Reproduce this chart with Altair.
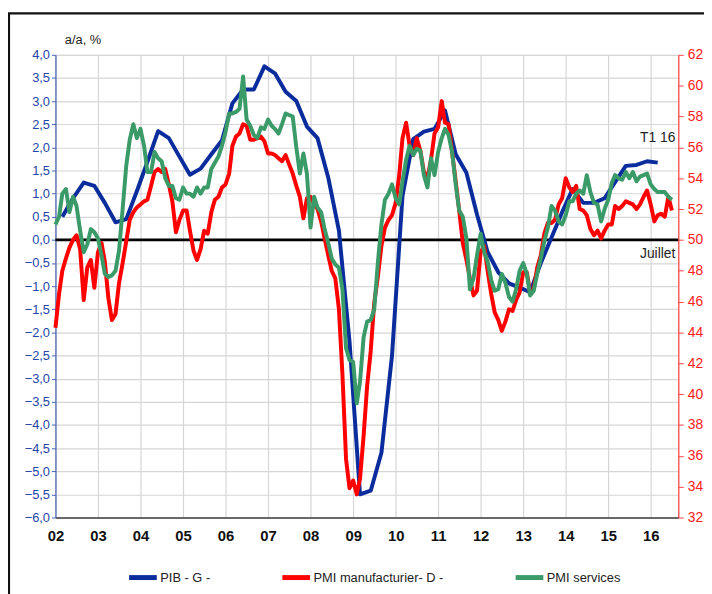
import altair as alt
import pandas as pd

# ---------------- data ----------------
pib_values = [
    0.5, 0.9, 1.24, 1.17,
    0.8, 0.38, 0.45, 1.05,
    1.69, 2.35, 2.2, 1.8,
    1.41, 1.54, 1.85, 2.15,
    2.95, 3.25, 3.25, 3.75,
    3.6, 3.2, 3.0, 2.45,
    2.2, 1.35, 0.2, -2.2,
    -5.5, -5.42, -4.6, -2.5,
    0.95, 2.18, 2.34, 2.4,
    2.8, 1.85, 1.45, 0.55,
    -0.26, -0.7, -0.94, -1.03,
    -1.13, -0.5, 0.05, 0.6,
    1.1, 0.8, 0.8, 0.9,
    1.25, 1.6, 1.62, 1.7,
    1.67,
]

pmi_manuf = [
    44.3, 46.5, 48.0, 48.8, 49.5, 50.0, 50.3, 49.4, 46.1, 48.2, 48.7, 46.9,
    49.2, 49.8, 48.6, 46.2, 44.8, 45.2, 47.2, 48.5, 49.9, 51.3, 51.8, 52.1,
    52.3, 52.5, 52.6, 53.5, 54.4, 54.6, 54.4, 54.6, 53.6, 52.5, 50.5, 51.3,
    51.9, 51.9, 50.6, 49.3, 48.7, 49.4, 50.6, 50.4, 51.8, 52.6, 52.8, 53.4,
    53.6, 54.3, 56.1, 56.7, 56.9, 57.5, 57.4, 56.5, 56.5, 56.6, 56.7, 56.4,
    55.6, 55.6, 55.5, 55.3, 55.1, 55.5, 54.9, 54.3, 53.5, 52.8, 51.4, 52.7,
    52.8, 52.3, 52.0, 51.2, 50.1, 49.0, 48.0, 47.5, 45.5, 41.3, 35.8, 33.9,
    34.4, 33.5, 34.5, 37.3, 40.5, 42.8, 45.9, 47.6, 49.6, 50.8, 51.3, 51.6,
    52.4, 54.2, 56.6, 57.6, 56.1, 55.5, 56.6, 55.8, 54.4, 54.0, 55.2, 56.9,
    57.3, 59.0, 57.6, 57.5, 55.7, 53.8, 51.9, 49.8, 48.7, 47.5, 46.4, 46.7,
    49.2, 49.6, 48.0, 46.5, 45.3, 44.8, 44.1, 44.7, 45.5, 45.4, 46.1, 46.6,
    47.9, 47.9, 46.6, 46.8, 48.2, 49.0, 50.4, 51.1, 51.1, 51.3, 52.3, 52.7,
    54.0, 53.4, 53.1, 53.5, 52.0, 51.9, 51.6, 50.7, 50.3, 50.6, 50.1, 50.6,
    51.0, 51.0, 52.2, 52.0, 52.2, 52.5, 52.4, 52.3, 52.0, 52.3, 52.8, 53.2,
    52.3, 51.2, 51.6, 51.7, 51.5, 52.8, 51.9,
]

pmi_services = [
    51.0, 51.5, 53.0, 53.3, 51.8, 52.8, 52.2, 50.6, 49.2, 49.7, 50.7, 50.5,
    50.1, 49.0, 47.8, 47.6, 47.7, 48.0, 49.3, 52.0, 54.8, 56.5, 57.5, 56.6,
    57.2, 56.1, 54.4, 54.4, 55.7, 55.3, 55.1, 54.0, 53.5, 53.5, 52.7, 52.6,
    53.4, 53.0, 53.0, 52.8, 53.4, 53.0, 53.4, 53.4, 54.6, 55.0, 55.4, 56.1,
    57.0, 58.2, 58.2, 58.3, 58.5, 60.6, 57.8, 57.4, 56.8, 56.6, 57.3, 57.2,
    57.8, 57.4, 57.2, 56.9, 57.5, 58.2, 58.1, 58.0, 56.0, 54.3, 55.6, 54.3,
    50.8, 52.8, 52.1, 51.8, 50.7, 49.8, 48.8, 48.4, 48.2, 46.8, 43.0, 42.2,
    42.1, 39.4, 40.8, 43.7, 44.7, 44.8, 45.5, 48.5, 51.0, 52.6, 53.0, 53.6,
    52.7, 52.3, 53.8, 55.2, 56.1, 55.5, 55.9, 55.8, 54.2, 53.4, 55.3, 54.2,
    55.7, 56.6, 57.2, 56.8, 55.7, 53.6, 51.9, 51.5, 50.1, 46.8, 47.5, 49.0,
    50.4, 49.2, 48.6, 47.4, 46.7, 46.8, 47.8, 47.2, 46.3, 46.0, 46.8, 48.0,
    48.5, 47.8, 46.4, 46.7, 47.8, 48.8, 49.9, 50.8, 52.2, 51.9, 51.2, 51.0,
    51.6, 52.5, 52.5, 53.0, 53.2, 53.0, 54.2, 53.1, 52.4, 52.3, 51.2, 52.0,
    52.6, 53.7, 54.2, 54.0, 53.9, 54.4, 54.0, 54.4, 53.8, 54.1, 54.2, 54.3,
    53.6, 53.3, 53.1, 53.1, 53.1, 52.8, 52.6,
]

series_names = ["PIB - G -", "PMI manufacturier- D -", "PMI services"]
series_colors = ["#0a2c9c", "#ff0000", "#3a9a68"]

left_ticks = [-6.0 + 0.5 * i for i in range(21)]
right_ticks = list(range(32, 63, 2))

annot_text = ["T1 16", "Juillet"]
annot_date = ["2016-03-01T00:00:00", "2016-03-01T00:00:00"]
annot_value = [2.2, -0.3]

pmi_dates = pd.date_range("2002-01-01", periods=len(pmi_manuf), freq="MS").strftime("%Y-%m-%dT00:00:00").tolist()
pib_dates = pd.date_range("2002-03-01", periods=len(pib_values), freq="3MS").strftime("%Y-%m-%dT00:00:00").tolist()

pib_df = pd.DataFrame({"date": pib_dates, "value": pib_values, "serie": series_names[0]})
pmi_df = pd.concat([
    pd.DataFrame({"date": pmi_dates, "value": pmi_manuf, "serie": series_names[1]}),
    pd.DataFrame({"date": pmi_dates, "value": pmi_services, "serie": series_names[2]}),
])
annot_df = pd.DataFrame({"date": annot_date, "value": annot_value, "text": annot_text})
zero_df = pd.DataFrame({"value": [0.0]})

FONT = "Liberation Sans"

x_axis = alt.Axis(
    title=None, format="%y", tickCount={"interval": "year", "step": 1},
    labelFont=FONT, labelFontSize=15, labelFontWeight="bold", labelColor="#111",
    labelPadding=11, ticks=False, domainColor="#404040", domainWidth=1.5,
    grid=True, gridColor="#d6d6d6", gridWidth=1.2, labelFlush=False,
)
x_scale = alt.Scale(domain=[alt.DateTime(year=2002, month=1, date=1),
                            alt.DateTime(year=2016, month=8, date=25)])
x_enc = alt.X("date:T", scale=x_scale, axis=x_axis)

color_enc = alt.Color(
    "serie:N",
    scale=alt.Scale(domain=series_names, range=series_colors),
    legend=alt.Legend(
        orient="none", legendX=72, legendY=512, direction="horizontal", title=None,
        symbolType="stroke", symbolSize=784, symbolStrokeWidth=5,
        labelFont=FONT, labelFontSize=13, labelColor="#222", labelOffset=1,
        columnPadding=62, labelLimit=300,
    ),
)

left_scale = alt.Scale(domain=[-6, 4], nice=False, zero=False)
left_axis = alt.Axis(
    values=left_ticks, labelOverlap=False,
    labelExpr="replace(format(datum.value, '.1f'), '.', ',')",
    labelFont=FONT, labelFontSize=13, labelColor="#2446a6", labelPadding=2,
    tickColor="#4a63b5", tickSize=4, domainColor="#4a63b5", domainWidth=1.2,
    grid=True, gridColor="#d6d6d6", gridWidth=1.2,
    title="a/a, %", titleAngle=0, titleX=9, titleY=-15, titleAlign="left",
    titleBaseline="middle", titleFont=FONT, titleFontSize=13, titleFontWeight="normal",
    titleColor="#222",
)

frame = alt.Chart(pd.DataFrame({"k": [0]})).mark_rect(
    filled=False, stroke="#111", strokeWidth=2.2
).encode(x=alt.value(-47), x2=alt.value(700), y=alt.value(-42), y2=alt.value(620))

zero_rule = alt.Chart(zero_df).mark_rule(color="black", strokeWidth=2.6).encode(
    y=alt.Y("value:Q", scale=left_scale, axis=left_axis)
)

pib_line = alt.Chart(pib_df).mark_line(strokeWidth=4, strokeJoin="round").encode(
    x=x_enc,
    y=alt.Y("value:Q", scale=left_scale, axis=left_axis),
    color=color_enc,
)

annots = alt.Chart(annot_df).mark_text(font=FONT, fontSize=14, color="#222", align="center", baseline="middle").encode(
    x=alt.X("date:T", scale=x_scale, axis=x_axis),
    y=alt.Y("value:Q", scale=left_scale, axis=left_axis),
    text="text:N",
)

left = alt.layer(frame, zero_rule, pib_line, annots)

pmi_lines = alt.Chart(pmi_df).mark_line(strokeWidth=4, strokeJoin="round").encode(
    x=x_enc,
    y=alt.Y(
        "value:Q",
        scale=alt.Scale(domain=[32, 62], nice=False, zero=False),
        axis=alt.Axis(
            orient="right", values=right_ticks, title=None, grid=False, labelOverlap=False,
            labelFont=FONT, labelFontSize=14, labelColor="#ff2020", labelPadding=4,
            tickColor="#ff4040", tickSize=5, domainColor="#ff4040", domainWidth=1.2,
        ),
    ),
    color=color_enc,
)

chart = alt.layer(left, pmi_lines).resolve_scale(y="independent").properties(
    width=630, height=468,
    autosize=alt.AutoSizeParams(type="none"),
    padding={"left": 48, "top": 44, "right": 26, "bottom": 74},
    background="white",
).configure_view(stroke="#8a8a8a", strokeWidth=1.2).configure(font=FONT)

chart.save("out.html", embed_options={"renderer": "svg", "actions": False})
